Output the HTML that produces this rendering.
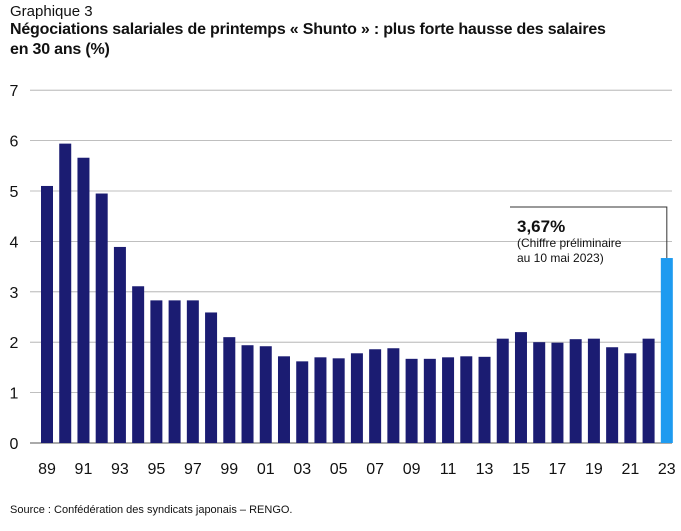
<!DOCTYPE html>
<html><head><meta charset="utf-8">
<style>
body{margin:0;background:#fff;font-family:"Liberation Sans",sans-serif;}
#wrap{position:relative;width:681px;height:531px;overflow:hidden;}
.t{position:absolute;color:#111;}
</style></head><body>
<div id="wrap">
<div class="t" style="left:10px;top:3px;font-size:15px;">Graphique 3</div>
<div class="t" style="left:10px;top:20px;font-size:16px;font-weight:bold;line-height:20px;letter-spacing:-0.2px;">Négociations salariales de printemps « Shunto » : plus forte hausse des salaires<br>en 30 ans (%)</div>
<svg id="chart" width="681" height="531" style="position:absolute;left:0;top:0"></svg>
<div class="t" style="left:10px;top:504px;font-size:11px;">Source : Confédération des syndicats japonais – RENGO.</div>
</div>
<script>
const years=["89","90","91","92","93","94","95","96","97","98","99","00","01","02","03","04","05","06","07","08","09","10","11","12","13","14","15","16","17","18","19","20","21","22","23"];
const values=[5.10,5.94,5.66,4.95,3.89,3.11,2.83,2.83,2.83,2.59,2.10,1.94,1.92,1.72,1.62,1.70,1.68,1.78,1.86,1.88,1.67,1.67,1.70,1.72,1.71,2.07,2.20,2.00,1.99,2.06,2.07,1.90,1.78,2.07,3.67];
const yTicks=[0,1,2,3,4,5,6,7];
const ns="http://www.w3.org/2000/svg";
const svg=document.getElementById('chart');
const y0=443,pxPer=50.4,x0=47,step=18.23,bw=12;
const yS=v=>y0-v*pxPer;
const xS=i=>x0+i*step;
function mk(tag,a,parent){const e=document.createElementNS(ns,tag);for(const k in a)e.setAttribute(k,a[k]);(parent||svg).appendChild(e);return e;}
yTicks.forEach(t=>{
 const l=mk('line',{x1:30,x2:672,y1:yS(t),y2:yS(t),stroke:t===0?'#555':'#aaa','stroke-width':t===0?1:0.8});
 
 
 const tx=mk('text',{x:14,y:yS(t)+6,'font-size':16,fill:'#111','text-anchor':'middle','font-family':'Liberation Sans'});
 tx.textContent=t;
 
 
});
values.forEach((v,i)=>{
 const last=i===values.length-1;
 const r=mk('rect',{x:xS(i)-bw/2,y:yS(v),width:bw,height:v*pxPer,fill:last?'#1e9bf0':'#1b1c72'});
 
 
 if(i%2===0){
  const tx=mk('text',{x:xS(i),y:474,'font-size':16,fill:'#111','text-anchor':'middle','font-family':'Liberation Sans'});
  tx.textContent=years[i];
  
  
 }
});
const li=values.length-1,lx=xS(li),ly=yS(values[li]);
const p=mk('polyline',{points:`510,207 ${lx},207 ${lx},${ly}`,fill:'none',stroke:'#333','stroke-width':1});


const a1=mk('text',{x:517,y:232,'font-size':17,'font-weight':'bold',fill:'#111','font-family':'Liberation Sans'});
a1.textContent=values[li].toFixed(2).replace('.',',')+'%';


const a2=mk('text',{x:517,y:247,'font-size':12,fill:'#111','font-family':'Liberation Sans'});
a2.textContent='(Chiffre préliminaire';


const a3=mk('text',{x:517,y:262,'font-size':12,fill:'#111','font-family':'Liberation Sans'});
a3.textContent='au 10 mai 2023)';


</script>
</body></html>
